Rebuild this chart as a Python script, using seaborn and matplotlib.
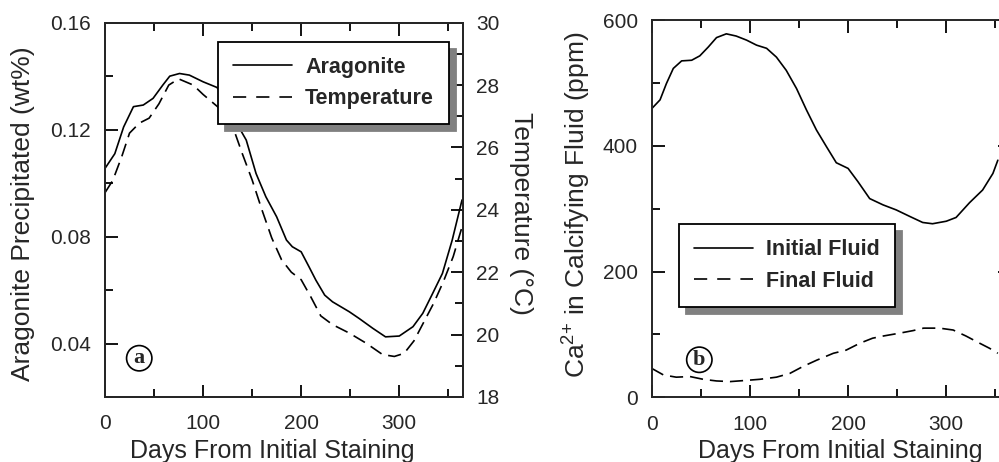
import numpy as np
import pandas as pd
import matplotlib
matplotlib.use("Agg")
import matplotlib.pyplot as plt
from matplotlib.lines import Line2D
from matplotlib.ticker import MultipleLocator
import seaborn as sns

# ---------------- data ----------------
arag_days = [0, 10, 19, 29, 39, 49, 59, 66, 76, 86, 100, 114, 125, 137, 144, 154,
             164, 175, 185, 191, 200, 208, 215, 224, 232, 249, 259, 273, 286, 300,
             314, 324, 334, 344, 354, 364]
arag_wt = [0.1055, 0.111, 0.121, 0.1286, 0.1292, 0.1317, 0.1367, 0.140, 0.141, 0.1404,
           0.1379, 0.1358, 0.131, 0.1206, 0.1161, 0.1036, 0.0949, 0.0874, 0.0787, 0.0762,
           0.0743, 0.0687, 0.0637, 0.0581, 0.0556, 0.0519, 0.0494, 0.0457, 0.0425, 0.0428,
           0.0463, 0.0513, 0.0587, 0.0662, 0.0787, 0.0937]

temp_days = [0, 8, 17, 25, 35, 45, 55, 65, 75, 90, 100, 115, 124, 131, 140, 150, 160,
             170, 180, 190, 200, 210, 220, 232, 249, 266, 283, 295, 305, 315, 325, 335,
             345, 355, 364]
temp_c = [24.55, 24.95, 25.7, 26.46, 26.78, 26.94, 27.4, 28.0, 28.2, 28.0, 27.7, 27.3,
          27.0, 26.6, 25.8, 24.96, 24.0, 23.1, 22.4, 22.0, 21.76, 21.2, 20.6, 20.32,
          20.05, 19.73, 19.36, 19.3, 19.4, 19.8, 20.4, 21.0, 21.7, 22.5, 23.45]

init_days = [0, 8.5, 15, 22, 30.5, 40.7, 49, 57.6, 66, 76, 86, 96.6, 106.8, 117, 127,
             137, 147.5, 157.6, 167.8, 178, 188, 200, 210, 222, 235.6, 249, 263, 276,
             286, 300, 310, 323.7, 337, 347.5, 352.5]
init_ppm = [459, 473, 499, 523, 535, 536, 543, 557, 572, 578, 574.5, 568, 560, 555, 541,
            520, 491, 457, 425, 398.5, 373, 364, 343, 316, 306, 298, 287.5, 278, 276,
            280, 286, 309.5, 329.6, 356, 377]

final_days = [0, 12, 25, 39, 52.5, 66, 80, 93, 110, 127, 140.7, 154, 168, 185, 198, 212,
              225, 236, 252.5, 266, 277, 293, 307, 320, 334, 344, 352.5]
final_ppm = [46, 35.5, 32, 33, 28.6, 26, 25, 26.5, 28.6, 32, 38, 49, 59, 70, 75, 86, 94,
             97.5, 102, 106, 110, 110, 107, 97.5, 86, 78, 70]

legend_a = ["Aragonite", "Temperature"]
legend_b = ["Initial Fluid", "Final Fluid"]
x_label = "Days From Initial Staining"

# ---------------- style ----------------
sns.set_style("ticks")
plt.rcParams["font.family"] = ["Liberation Sans", "DejaVu Sans"]
plt.rcParams["mathtext.fontset"] = "custom"
plt.rcParams["mathtext.rm"] = "Liberation Sans"
plt.rcParams["mathtext.it"] = "Liberation Sans"
plt.rcParams["lines.scale_dashes"] = False
plt.rcParams["axes.linewidth"] = 1.4

TICK_FS = 15
XLAB_FS = 18
YLAB_FS = 19
LEG_FS = 15.5
LW = 1.2
PLOT_DASH = (0, (9.5, 5.0))
LEG_DASH = (0, (9.5, 7.2))

fig = plt.figure(figsize=(9.99, 4.62), dpi=100)
ax1 = fig.add_axes([105 / 999, 65 / 462, 358 / 999, 374.3 / 462])
ax3 = fig.add_axes([651.7 / 999, 64.7 / 462, 358.4 / 999, 377.3 / 462])

df_a = pd.DataFrame({"day": arag_days, "val": arag_wt})
df_t = pd.DataFrame({"day": temp_days, "val": temp_c})
df_i = pd.DataFrame({"day": init_days, "val": init_ppm})
df_f = pd.DataFrame({"day": final_days, "val": final_ppm})

# ---------------- panel a ----------------
sns.lineplot(data=df_a, x="day", y="val", ax=ax1, color="black", lw=LW)
ax2 = ax1.twinx()
sns.lineplot(data=df_t, x="day", y="val", ax=ax2, color="black", lw=LW,
             linestyle=PLOT_DASH)

ax1.set_xlim(0, 365)
ax1.set_ylim(0.02, 0.16)
ax2.set_ylim(18, 30)
ax1.xaxis.set_major_locator(MultipleLocator(100))
ax1.xaxis.set_minor_locator(MultipleLocator(50))
ax1.set_yticks([0.04, 0.08, 0.12, 0.16])
ax1.yaxis.set_minor_locator(MultipleLocator(0.02))
ax1.set_yticklabels(["0.04", "0.08", "0.12", "0.16"])
ax2.yaxis.set_major_locator(MultipleLocator(2))
ax2.yaxis.set_minor_locator(MultipleLocator(1))

ax1.tick_params(axis="x", which="both", direction="in", top=True, bottom=True,
                labelsize=TICK_FS, pad=12.5, width=1.3, color="black")
ax1.tick_params(axis="y", which="both", direction="in", left=True, right=False,
                labelsize=TICK_FS, pad=10, width=1.3, color="black")
ax2.tick_params(axis="y", which="both", direction="in", right=True, left=False,
                labelsize=TICK_FS, pad=9.5, width=1.3, color="black")
for a in (ax1, ax2):
    a.tick_params(which="major", length=9)
    a.tick_params(which="minor", length=5.5)

ax1.set_xlabel(x_label, fontsize=XLAB_FS)
ax1.set_ylabel("Aragonite Precipitated (wt%)", fontsize=YLAB_FS)
ax2.set_ylabel("Temperature (°C)", fontsize=YLAB_FS, rotation=270)
ax1.xaxis.set_label_coords(0.466, -0.111)
ax1.yaxis.set_label_coords(-0.229, 0.49)
ax2.yaxis.set_label_coords(1.162, 0.49)
ax2.yaxis.label.set_va("center")
ax1.yaxis.label.set_va("center")

for sp in ax2.spines.values():
    sp.set_linewidth(1.4)

h_a = [Line2D([], [], color="black", lw=LW),
       Line2D([], [], color="black", lw=LW, linestyle=LEG_DASH)]
leg_props = dict(loc="upper left", fancybox=False, framealpha=1, edgecolor="black",
                 borderaxespad=0, borderpad=0.7, handlelength=2.75, handletextpad=0.6,
                 labelspacing=0.48, prop={"weight": "bold", "size": LEG_FS},
                 shadow={"ox": 5, "oy": -5, "color": "0.5", "alpha": 1})
leg1 = ax2.legend(h_a, legend_a, bbox_to_anchor=(0.3156, 0.949), **leg_props)
leg1.get_frame().set_linewidth(1.3)

ax1.text(34.9, 0.0345, "a", ha="center", va="center", fontsize=16, fontweight="bold",
         family="Liberation Serif", zorder=5,
         bbox=dict(boxstyle="circle,pad=0.12", fc="white", ec="black", lw=1.2))

# ---------------- panel b ----------------
sns.lineplot(data=df_i, x="day", y="val", ax=ax3, color="black", lw=LW)
sns.lineplot(data=df_f, x="day", y="val", ax=ax3, color="black", lw=LW,
             linestyle=PLOT_DASH)
ax3.set_xlim(0, 365)
ax3.set_ylim(0, 600)
ax3.xaxis.set_major_locator(MultipleLocator(100))
ax3.xaxis.set_minor_locator(MultipleLocator(50))
ax3.yaxis.set_major_locator(MultipleLocator(200))
ax3.yaxis.set_minor_locator(MultipleLocator(100))
ax3.tick_params(axis="x", which="both", direction="in", top=True, bottom=True,
                labelsize=TICK_FS, pad=12.5, width=1.3, color="black")
ax3.tick_params(axis="y", which="both", direction="in", left=True, right=True,
                labelsize=TICK_FS, pad=10, width=1.3, color="black")
ax3.tick_params(which="major", length=9)
ax3.tick_params(which="minor", length=5.5)
ax3.set_xlabel(x_label, fontsize=XLAB_FS)
ax3.set_ylabel("Ca$^{2{+}}$ in Calcifying Fluid (ppm)", fontsize=YLAB_FS)
ax3.xaxis.set_label_coords(0.526, -0.111)
ax3.yaxis.set_label_coords(-0.209, 0.51)
ax3.yaxis.label.set_va("center")

h_b = [Line2D([], [], color="black", lw=LW),
       Line2D([], [], color="black", lw=LW, linestyle=LEG_DASH)]
leg2 = ax3.legend(h_b, legend_b, bbox_to_anchor=(0.0762, 0.459), **leg_props)
leg2.get_frame().set_linewidth(1.3)

ax3.text(48.5, 59.7, "b", ha="center", va="center", fontsize=16, fontweight="bold",
         family="Liberation Serif", zorder=5,
         bbox=dict(boxstyle="circle,pad=0.12", fc="white", ec="black", lw=1.2))

fig.savefig("out.png", dpi=100)
